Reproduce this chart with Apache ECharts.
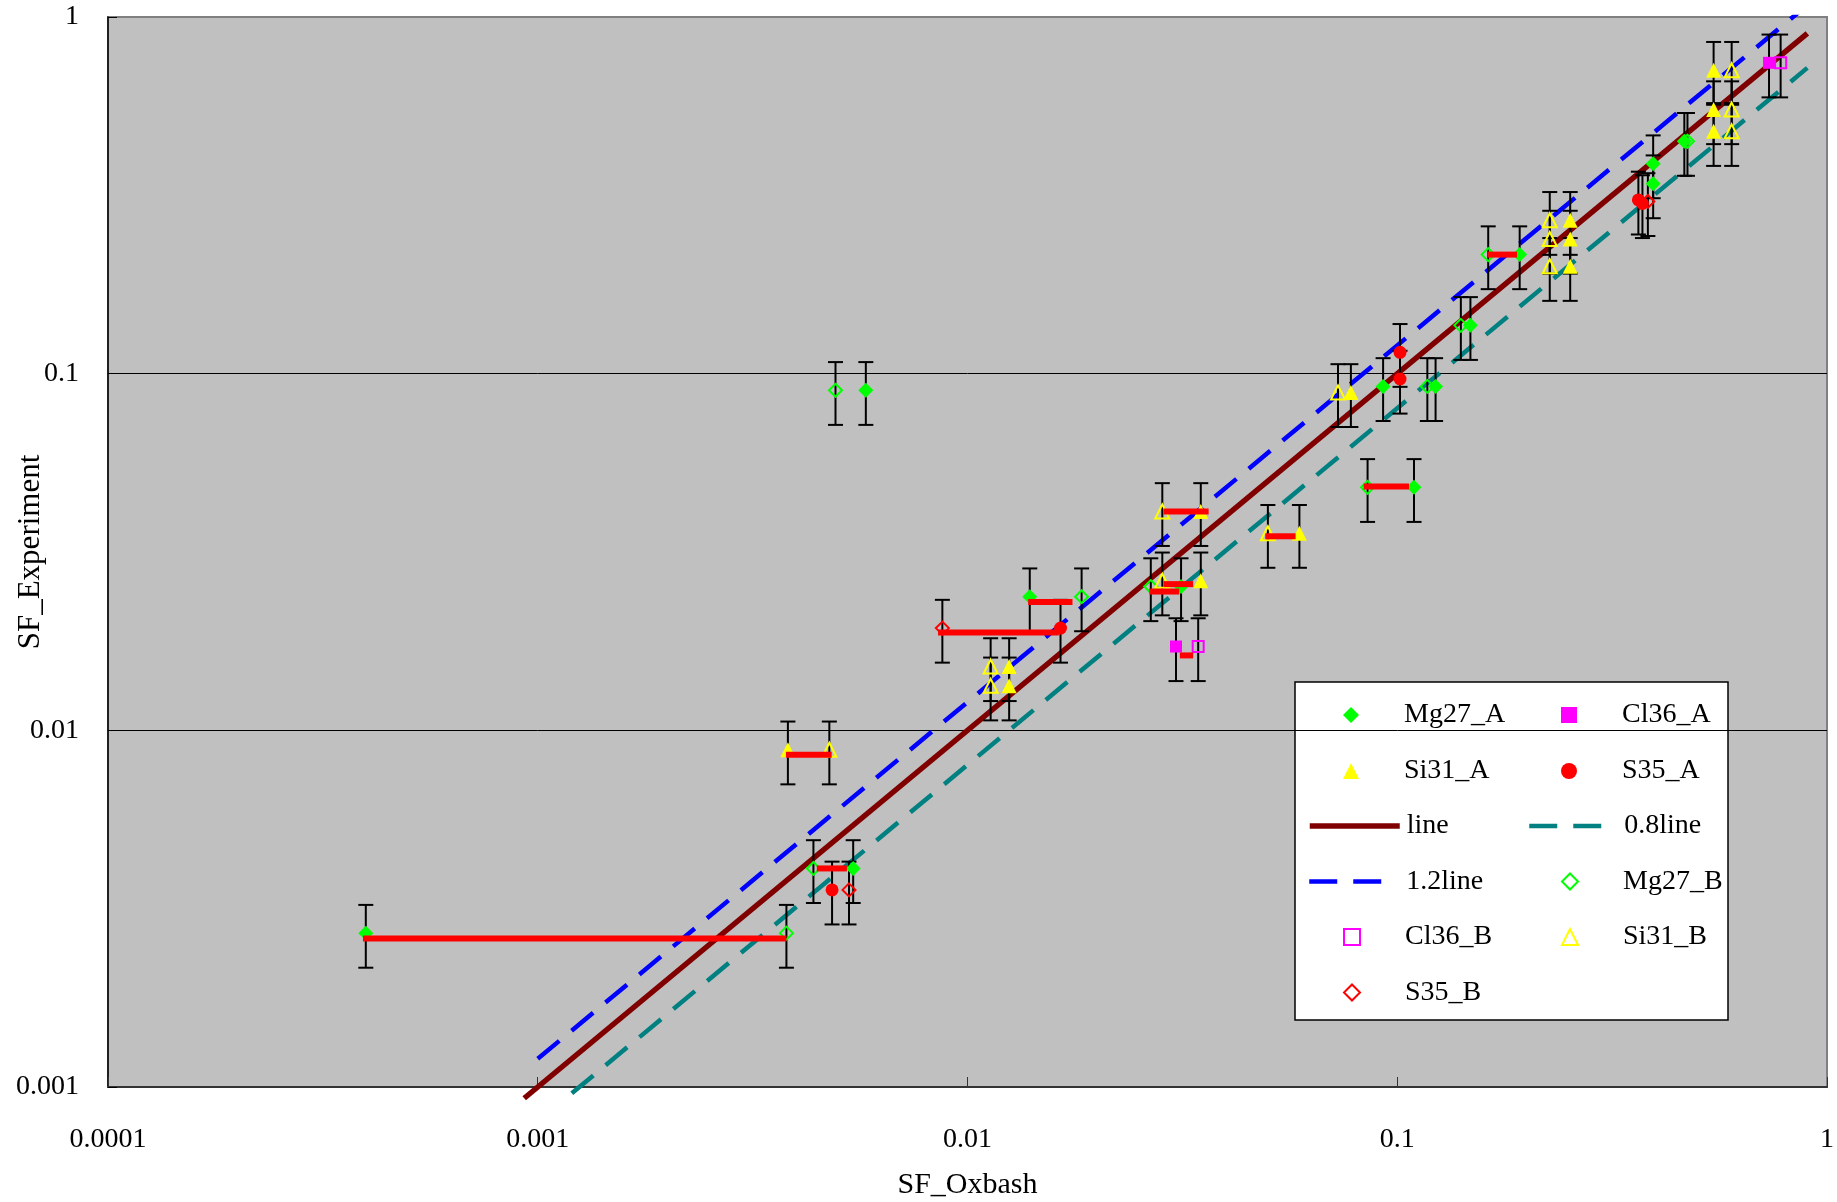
<!DOCTYPE html>
<html><head><meta charset="utf-8">
<script src="https://cdn.jsdelivr.net/npm/echarts@6/dist/echarts.min.js"></script>
<style>html,body{margin:0;padding:0;background:#fff}#c{width:1837px;height:1202px}</style>
</head><body><div id="c"></div>
<script>
// ---- tick labels ----
const xTickLabels = ['0.0001', '0.001', '0.01', '0.1', '1'];
const yTickLabels = ['0.001', '0.01', '0.1', '1'];

// ---- point series (x = SF_Oxbash, y = SF_Experiment) ----
const mg27A_x = [0.000398, 0.00542, 0.0058, 0.01396, 0.0314, 0.1094, 0.0927, 0.1228, 0.148, 0.1927, 0.394, 0.394, 0.4656];
const mg27A_y = [0.0027, 0.0041, 0.0898, 0.0237, 0.0253, 0.048, 0.0921, 0.0921, 0.1366, 0.2157, 0.388, 0.341, 0.4484];

const cl36A_x = [0.03056, 0.733];
const cl36A_y = [0.01718, 0.744];

const si31A_x = [0.00382, 0.0125, 0.0125, 0.0349, 0.0349, 0.0592, 0.078, 0.2526, 0.2526, 0.2526, 0.5447, 0.5447, 0.5447];
const si31A_y = [0.00882, 0.0151, 0.01333, 0.0411, 0.02626, 0.0357, 0.0886, 0.2692, 0.2385, 0.2, 0.7093, 0.5501, 0.478];

const s35A_x = [0.00484, 0.01646, 0.1015, 0.1015, 0.364, 0.372];
const s35A_y = [0.00357, 0.01935, 0.1148, 0.0966, 0.307, 0.300];

const mg27B_x = [0.00379, 0.00438, 0.00493, 0.01843, 0.0267, 0.0853, 0.1175, 0.1406, 0.1628, 0.4735];
const mg27B_y = [0.0027, 0.0041, 0.0898, 0.0237, 0.0253, 0.048, 0.0921, 0.1366, 0.2157, 0.4484];

const cl36B_x = [0.03442, 0.780];
const cl36B_y = [0.01718, 0.744];

const si31B_x = [0.00477, 0.01132, 0.01132, 0.0284, 0.0284, 0.05, 0.0728, 0.2264, 0.2264, 0.2264, 0.600, 0.600, 0.600];
const si31B_y = [0.00882, 0.0151, 0.01333, 0.0411, 0.02626, 0.0357, 0.0886, 0.2692, 0.2385, 0.2, 0.7093, 0.5501, 0.478];

const s35B_x = [0.0053, 0.00874, 0.383];
const s35B_y = [0.00357, 0.01935, 0.304];

// ---- reference lines ----
const line_x = [0.00093, 0.9];
const line_y = [0.00093, 0.9];
const line08_x = [0.0012, 0.9];
const line08_y = [0.00096, 0.72];
const line12_x = [0.001, 0.9];
const line12_y = [0.0012, 1.08];

// ---- red connecting bars (A <-> B) ----
const barFrom = [0.000392, 0.00378, 0.00446, 0.00854, 0.01384, 0.0265, 0.0286, 0.0286, 0.0312, 0.0493, 0.0835, 0.1622];
const barTo   = [0.00379, 0.00483, 0.00524, 0.01631, 0.01755, 0.0311, 0.0335, 0.0364, 0.0335, 0.058, 0.1065, 0.19];
const barY    = [0.00261, 0.00854, 0.0041, 0.0188, 0.0229, 0.0245, 0.0257, 0.0411, 0.01622, 0.035, 0.0483, 0.2157];

// error bars: percentage (as in the original chart settings)
const ERROR_PCT = 20;

const zip = (xs, ys) => xs.map((x, i) => [x, ys[i]]);
const FONT = "'Liberation Serif', 'Times New Roman', serif";

const pointSets = [
  {name: 'Mg27_A', x: mg27A_x, y: mg27A_y, symbol: 'diamond', size: 15, fill: '#00FF00', stroke: '#00FF00', bw: 0},
  {name: 'Cl36_A', x: cl36A_x, y: cl36A_y, symbol: 'rect', size: 12, fill: '#FF00FF', stroke: '#FF00FF', bw: 0},
  {name: 'Si31_A', x: si31A_x, y: si31A_y, symbol: 'triangle', size: 15, fill: '#FFFF00', stroke: '#FFFF00', bw: 0},
  {name: 'S35_A', x: s35A_x, y: s35A_y, symbol: 'circle', size: 13, fill: '#FF0000', stroke: '#FF0000', bw: 0},
  {name: 'Mg27_B', x: mg27B_x, y: mg27B_y, symbol: 'diamond', size: 13, fill: 'rgba(0,0,0,0)', stroke: '#00FF00', bw: 2},
  {name: 'Cl36_B', x: cl36B_x, y: cl36B_y, symbol: 'rect', size: 11, fill: 'rgba(0,0,0,0)', stroke: '#FF00FF', bw: 2},
  {name: 'Si31_B', x: si31B_x, y: si31B_y, symbol: 'triangle', size: 14, fill: 'rgba(0,0,0,0)', stroke: '#FFFF00', bw: 2},
  {name: 'S35_B', x: s35B_x, y: s35B_y, symbol: 'diamond', size: 13, fill: 'rgba(0,0,0,0)', stroke: '#FF0000', bw: 2}
];

const lineSets = [
  {name: 'line', x: line_x, y: line_y, color: '#800000', width: 5.5, type: 'solid', clip: false},
  {name: '0.8line', x: line08_x, y: line08_y, color: '#008080', width: 4.5, type: [28, 16], clip: false},
  {name: '1.2line', x: line12_x, y: line12_y, color: '#0000FF', width: 4.5, type: [28, 16], clip: true}
];

const errData = [];
pointSets.forEach(p => p.x.forEach((x, i) => errData.push([x, p.y[i]])));
const barData = barFrom.map((x, i) => [x, barTo[i], barY[i]]);

const series = [];

lineSets.forEach(l => {
  series.push({name: l.name, type: 'line', data: zip(l.x, l.y), symbol: 'none', clip: l.clip, z: 1,
    lineStyle: {color: l.color, width: l.width, type: l.type, cap: 'butt'}, itemStyle: {color: l.color}});
});

// error bars
series.push({
  name: 'err', type: 'custom', z: 2, data: errData, encode: {x: 0, y: 1}, silent: true,
  renderItem: function (params, api) {
    const x = api.value(0), y = api.value(1);
    const t = api.coord([x, y * (1 + ERROR_PCT / 100)]);
    const b = api.coord([x, y * (1 - ERROR_PCT / 100)]);
    const st = {stroke: '#000', lineWidth: 2};
    const hw = 7.5;
    return {type: 'group', children: [
      {type: 'line', shape: {x1: t[0], y1: t[1], x2: b[0], y2: b[1]}, style: st},
      {type: 'line', shape: {x1: t[0] - hw, y1: t[1], x2: t[0] + hw, y2: t[1]}, style: st},
      {type: 'line', shape: {x1: b[0] - hw, y1: b[1], x2: b[0] + hw, y2: b[1]}, style: st}
    ]};
  }
});

// point series
pointSets.forEach(p => {
  series.push({
    name: p.name, type: 'scatter', z: 3, data: zip(p.x, p.y), symbol: p.symbol, symbolSize: p.size,
    symbolKeepAspect: true,
    itemStyle: {color: p.fill, borderColor: p.stroke, borderWidth: p.bw, opacity: 1}
  });
});

// red connecting bars
series.push({
  name: 'bars', type: 'custom', z: 4, data: barData, encode: {x: [0, 1], y: 2}, silent: true,
  renderItem: function (params, api) {
    const a = api.coord([api.value(0), api.value(2)]);
    const b = api.coord([api.value(1), api.value(2)]);
    return {type: 'line', shape: {x1: a[0], y1: a[1], x2: b[0], y2: b[1]},
      style: {stroke: '#FF0000', lineWidth: 6, lineCap: 'butt'}};
  }
});

// ---- legend layout (Excel-like 2-column box) ----
const legendRows = [715, 771, 826, 881.5, 937, 992.5];           // row centres (px)
const legendCols = [{icon: 1351, lineL: 1307, text: 1404},
                    {icon: 1569, lineL: 1527, text: 1622}];
const legendLineW = {'line': 90, '0.8line': 74, '1.2line': 74};
const legendOrder = [['Mg27_A', 0, 0], ['Cl36_A', 1, 0], ['Si31_A', 0, 1], ['S35_A', 1, 1],
                     ['line', 0, 2], ['0.8line', 1, 2], ['1.2line', 0, 3], ['Mg27_B', 1, 3],
                     ['Cl36_B', 0, 4], ['Si31_B', 1, 4], ['S35_B', 0, 5]];
const SYM = 16;
const legends = legendOrder.map(([name, c, r]) => {
  const col = legendCols[c];
  const p = pointSets.find(s => s.name === name);
  const l = lineSets.find(s => s.name === name);
  let left, iw, item;
  if (p) {
    left = col.icon - SYM / 2; iw = SYM;
    item = {name: name, icon: p.symbol,
      itemStyle: {color: p.fill, borderColor: p.stroke, borderWidth: p.bw}};
  } else {
    left = col.lineL; iw = legendLineW[name];
    item = {name: name,
      itemStyle: {color: 'rgba(0,0,0,0)', borderWidth: 0, opacity: 0},
      lineStyle: {color: l.color, width: l.width, type: l.type, cap: 'butt'}};
  }
  const natural = left + iw + 5;
  return {
    orient: 'vertical', left: left, top: legendRows[r] - 14, itemWidth: iw, itemHeight: SYM,
    selectedMode: false, padding: 0, z: 5, symbolKeepAspect: true,
    textStyle: {fontFamily: FONT, fontSize: 28, color: '#000', lineHeight: 28,
      padding: [0, 0, 0, Math.max(0, col.text - natural)]},
    data: [item]
  };
});

const option = {
  animation: false,
  backgroundColor: '#ffffff',
  grid: {left: 108, right: 10, top: 17, bottom: 115, show: true, backgroundColor: '#C0C0C0',
    borderColor: '#808080', borderWidth: 2, containLabel: false, outerBoundsMode: 'none'},
  xAxis: {
    type: 'log', logBase: 10, min: 0.0001, max: 1,
    name: 'SF_Oxbash', nameLocation: 'middle', nameGap: 83, nameMoveOverlap: false,
    nameTextStyle: {fontFamily: FONT, fontSize: 30, color: '#000'},
    axisLine: {show: true, lineStyle: {color: '#333', width: 2}},
    axisTick: {show: true, inside: true, length: 10, lineStyle: {color: '#333', width: 1}},
    splitLine: {show: false},
    axisLabel: {fontFamily: FONT, fontSize: 28, color: '#000', margin: 39, showMinLabel: true, showMaxLabel: true,
      formatter: v => xTickLabels[Math.round(Math.log10(v)) + 4]}
  },
  yAxis: {
    type: 'log', logBase: 10, min: 0.001, max: 1,
    name: 'SF_Experiment', nameLocation: 'middle', nameGap: 62, nameRotate: 90, nameMoveOverlap: false,
    nameTextStyle: {fontFamily: FONT, fontSize: 31, color: '#000'},
    axisLine: {show: true, lineStyle: {color: '#000', width: 1.5}},
    axisTick: {show: true, inside: true, length: 9, lineStyle: {color: '#000', width: 1}},
    splitLine: {show: true, showMinLine: false, showMaxLine: false, lineStyle: {color: '#000', width: 1}},
    axisLabel: {fontFamily: FONT, fontSize: 28, color: '#000', margin: 29, showMinLabel: true, showMaxLabel: true,
      formatter: v => yTickLabels[Math.round(Math.log10(v)) + 3]}
  },
  legend: legends,
  graphic: [{
    type: 'rect', z: 0, silent: true,
    shape: {x: 1295, y: 682, width: 433, height: 338},
    style: {fill: '#fff', stroke: '#000', lineWidth: 1.5}
  }],
  series: series
};

const chart = echarts.init(document.getElementById('c'), null, {renderer: 'canvas'});
chart.setOption(option);
</script></body></html>
